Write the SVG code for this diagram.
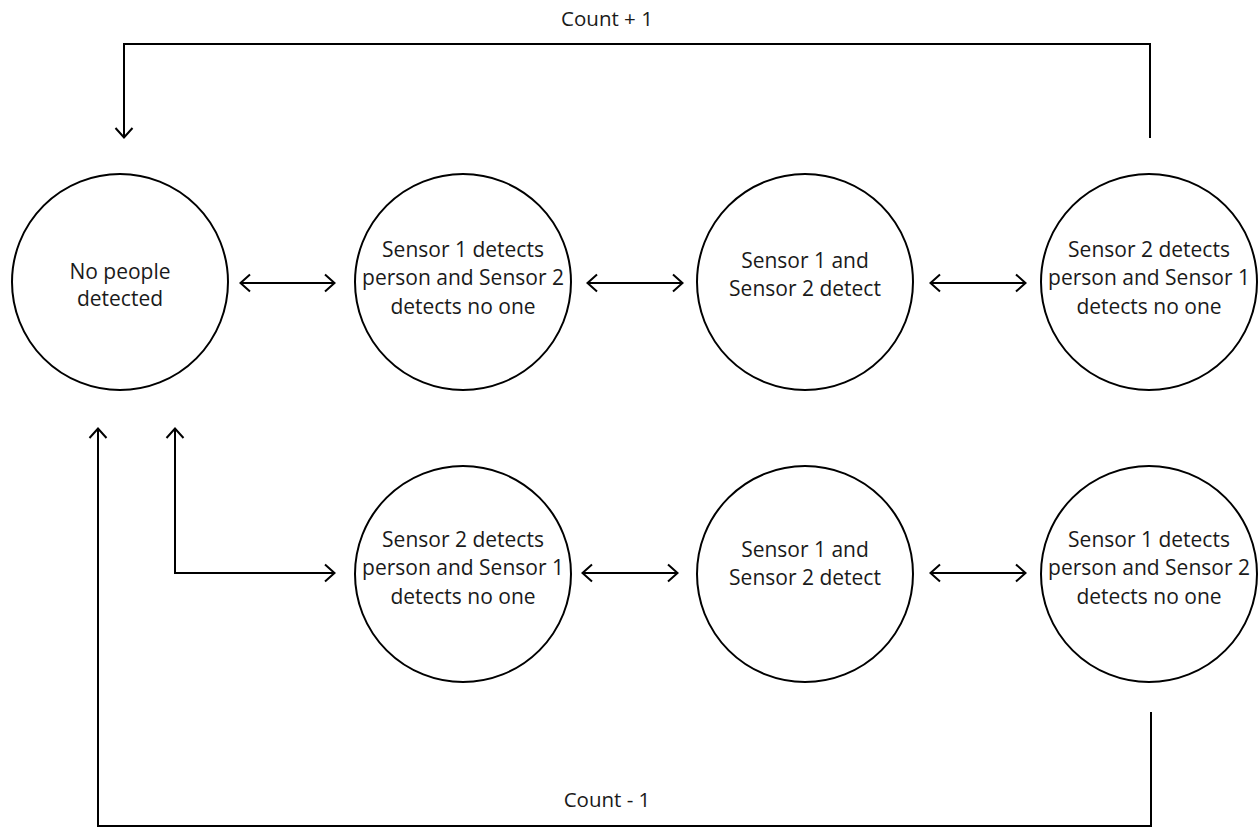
<svg xmlns="http://www.w3.org/2000/svg" width="1259" height="829" viewBox="0 0 1259 829">
<defs>
<marker id="ah" viewBox="0 0 12 20" refX="11" refY="10" markerWidth="12" markerHeight="20" markerUnits="userSpaceOnUse" orient="auto-start-reverse">
<path d="M1,1.5 L10.5,10 L1,18.5" fill="none" stroke="#000" stroke-width="2"/>
</marker>
<style>
.n{fill:#fff;stroke:#000;stroke-width:2}
.t{font-family:"Open Sans","Noto Sans",sans-serif;font-size:21px;fill:#1a1a1a;text-anchor:middle}
.l{font-family:"Open Sans","Noto Sans",sans-serif;font-size:20.5px;fill:#1a1a1a;text-anchor:middle}
.c{fill:none;stroke:#000;stroke-width:2}
</style>
</defs>
<rect width="1259" height="829" fill="#fff"/>
<g id="n1"><circle class="n" cx="120" cy="282" r="108"/><text class="t" x="120" y="279">No people</text><text class="t" x="120" y="306">detected</text></g>
<g id="n2"><circle class="n" cx="463" cy="282" r="108"/><text class="t" x="463" y="257">Sensor 1 detects</text><text class="t" x="463" y="285">person and Sensor 2</text><text class="t" x="463" y="314">detects no one</text></g>
<g id="n3"><circle class="n" cx="805" cy="282" r="108"/><text class="t" x="805" y="268">Sensor 1 and</text><text class="t" x="805" y="296">Sensor 2 detect</text></g>
<g id="n4"><circle class="n" cx="1149" cy="282" r="108"/><text class="t" x="1149" y="257">Sensor 2 detects</text><text class="t" x="1149" y="285">person and Sensor 1</text><text class="t" x="1149" y="314">detects no one</text></g>
<g id="n5"><circle class="n" cx="463" cy="574" r="108"/><text class="t" x="463" y="547">Sensor 2 detects</text><text class="t" x="463" y="575">person and Sensor 1</text><text class="t" x="463" y="604">detects no one</text></g>
<g id="n6"><circle class="n" cx="805" cy="574" r="108"/><text class="t" x="805" y="557">Sensor 1 and</text><text class="t" x="805" y="585">Sensor 2 detect</text></g>
<g id="n7"><circle class="n" cx="1149" cy="574" r="108"/><text class="t" x="1149" y="547">Sensor 1 detects</text><text class="t" x="1149" y="575">person and Sensor 2</text><text class="t" x="1149" y="604">detects no one</text></g>
<g id="connectors">
<path class="c" d="M240,283 H335" marker-start="url(#ah)" marker-end="url(#ah)"/>
<path class="c" d="M587,283 H683" marker-start="url(#ah)" marker-end="url(#ah)"/>
<path class="c" d="M930,283 H1026" marker-start="url(#ah)" marker-end="url(#ah)"/>
<path class="c" d="M582,573 H678" marker-start="url(#ah)" marker-end="url(#ah)"/>
<path class="c" d="M930,573 H1026" marker-start="url(#ah)" marker-end="url(#ah)"/>
<path class="c" d="M1150,138 V44 H124 V138" marker-end="url(#ah)"/>
<path class="c" d="M175,428 V573 H335" marker-start="url(#ah)" marker-end="url(#ah)"/>
<path class="c" d="M1151,712 V826 H98 V428" marker-end="url(#ah)"/>
<text class="l" x="607" y="26">Count + 1</text>
<text class="l" x="607" y="807">Count - 1</text>
</g>
</svg>
